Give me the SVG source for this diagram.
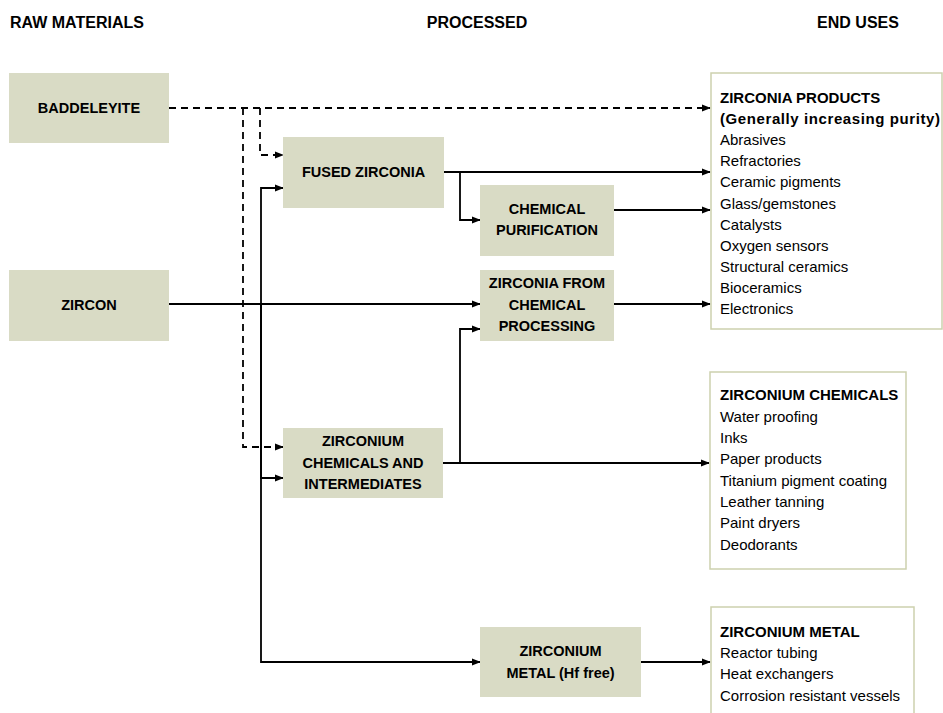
<svg xmlns="http://www.w3.org/2000/svg" width="943" height="713" viewBox="0 0 943 713">
<defs>
<style>
.hdr{font-family:"Liberation Sans",Arial,sans-serif;font-weight:bold;font-size:16px;fill:#000}
.bx rect{fill:#D9DBC5}
.bx text{font-family:"Liberation Sans",Arial,sans-serif;font-weight:bold;font-size:14.5px;fill:#000;text-anchor:middle}
.eu rect{fill:#fff;stroke:#CDD1AE;stroke-width:1.5}
.eu text{font-family:"Liberation Sans",Arial,sans-serif;font-size:15px;fill:#000}
.eu text.t{font-weight:bold}
.c path{fill:none;stroke:#000;stroke-width:1.8}
.c path.d{stroke-dasharray:7,5}
</style>
<marker id="ah" viewBox="0 0 10 10" refX="9" refY="5" markerWidth="9" markerHeight="9" markerUnits="userSpaceOnUse" orient="auto">
<path d="M0,1 L10,5 L0,9 Z" fill="#000"/>
</marker>
</defs>
<rect width="943" height="713" fill="#fff"/>
<text class="hdr" x="10" y="28">RAW MATERIALS</text>
<text class="hdr" x="477" y="28" text-anchor="middle">PROCESSED</text>
<text class="hdr" x="858" y="28" text-anchor="middle">END USES</text>

<g class="c">
<path class="d" d="M169,108 H710" marker-end="url(#ah)"/>
<path class="d" d="M260,108 V155 H283" marker-end="url(#ah)"/>
<path class="d" d="M243,108 V447 H283" marker-end="url(#ah)"/>
<path d="M169,304 H480" marker-end="url(#ah)"/>
<path d="M261,304 V188 H283" marker-end="url(#ah)"/>
<path d="M261,304 V478 H283" marker-end="url(#ah)"/>
<path d="M261,304 V662 H480" marker-end="url(#ah)"/>
<path d="M444,172 H710" marker-end="url(#ah)"/>
<path d="M460,172 V220 H480" marker-end="url(#ah)"/>
<path d="M614,210 H710" marker-end="url(#ah)"/>
<path d="M614,304 H710" marker-end="url(#ah)"/>
<path d="M443,463 H460 V329 H480" marker-end="url(#ah)"/>
<path d="M443,463 H709" marker-end="url(#ah)"/>
<path d="M641,662 H710" marker-end="url(#ah)"/>
</g>

<g id="baddeleyite" class="bx"><rect x="9" y="73" width="160" height="70"/><text x="89" y="113">BADDELEYITE</text></g>
<g id="zircon" class="bx"><rect x="9" y="270" width="160" height="71"/><text x="89" y="310">ZIRCON</text></g>
<g id="fused" class="bx"><rect x="283" y="137" width="161" height="71"/><text x="363.5" y="177">FUSED ZIRCONIA</text></g>
<g id="purification" class="bx"><rect x="480" y="185" width="134" height="71"/><text x="547" y="214">CHEMICAL</text><text x="547" y="235">PURIFICATION</text></g>
<g id="zfcp" class="bx"><rect x="480" y="270" width="134" height="71"/><text x="547" y="288">ZIRCONIA FROM</text><text x="547" y="310">CHEMICAL</text><text x="547" y="331">PROCESSING</text></g>
<g id="zci" class="bx"><rect x="283" y="428" width="160" height="70"/><text x="363" y="446">ZIRCONIUM</text><text x="363" y="468">CHEMICALS AND</text><text x="363" y="489">INTERMEDIATES</text></g>
<g id="metal" class="bx"><rect x="480" y="627" width="161" height="70"/><text x="560.5" y="656">ZIRCONIUM</text><text x="560.5" y="678">METAL (Hf free)</text></g>

<g id="zirconia-products" class="eu"><rect x="711" y="73" width="231" height="256"/>
<text class="t" x="720" y="103">ZIRCONIA PRODUCTS</text>
<text class="t" x="720" y="124" textLength="220" lengthAdjust="spacing">(Generally increasing purity)</text>
<text x="720" y="145">Abrasives</text>
<text x="720" y="166">Refractories</text>
<text x="720" y="187">Ceramic pigments</text>
<text x="720" y="208.5">Glass/gemstones</text>
<text x="720" y="229.5">Catalysts</text>
<text x="720" y="250.5">Oxygen sensors</text>
<text x="720" y="271.5">Structural ceramics</text>
<text x="720" y="293">Bioceramics</text>
<text x="720" y="314">Electronics</text>
</g>
<g id="zirconium-chemicals" class="eu"><rect x="710" y="372" width="196" height="197"/>
<text class="t" x="720" y="400">ZIRCONIUM CHEMICALS</text>
<text x="720" y="421.5">Water proofing</text>
<text x="720" y="443">Inks</text>
<text x="720" y="464">Paper products</text>
<text x="720" y="485.5">Titanium pigment coating</text>
<text x="720" y="507">Leather tanning</text>
<text x="720" y="528">Paint dryers</text>
<text x="720" y="549.5">Deodorants</text>
</g>
<g id="zirconium-metal" class="eu"><rect x="711" y="607" width="203" height="115"/>
<text class="t" x="720" y="637">ZIRCONIUM METAL</text>
<text x="720" y="658">Reactor tubing</text>
<text x="720" y="679">Heat exchangers</text>
<text x="720" y="701">Corrosion resistant vessels</text>
</g>
</svg>
